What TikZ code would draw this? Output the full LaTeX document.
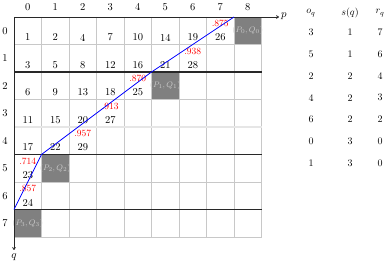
\documentclass[tikz,border=0pt]{standalone}
\usetikzlibrary{arrows.meta}
\definecolor{cellgray}{RGB}{128,128,128}
\definecolor{gridgray}{RGB}{200,200,200}
\definecolor{lightline}{RGB}{230,230,230}
\definecolor{lblgray}{RGB}{205,205,205}
\definecolor{thick}{RGB}{40,40,40}
\begin{document}
\begin{tikzpicture}[x=1pt,y=-1pt,
  num/.style={font=\fontsize{10.5}{12}\selectfont, inner sep=0pt},
  rnum/.style={font=\fontsize{9.5}{11}\selectfont, text=red, inner sep=0pt},
  axlbl/.style={font=\fontsize{10.5}{12}\selectfont, inner sep=0pt},
  tbl/.style={font=\normalsize, inner sep=0pt},
  celllbl/.style={font=\fontsize{8.5}{10}\selectfont, text=lblgray, inner sep=0pt},
  gridline/.style={draw=gridgray, line width=0.7pt},
  sepline/.style={draw=thick, line width=1.1pt},
  softline/.style={draw=lightline, line width=1.4pt},
  axis/.style={draw=thick, line width=0.8pt, -{To[length=3pt,width=3.5pt]}},
  path/.style={draw=blue, line width=0.8pt}]
\useasboundingbox (0,0) rectangle (391,264);
% shaded cells
\foreach \r/\c/\i in {0/8/0,2/5/1,5/1/2,7/0/3}{
  \fill[cellgray] ({14+27.5*\c},{17+27.5*\r}) rectangle ({14+27.5*(\c+1)},{17+27.5*(\r+1)});
  \node[celllbl] (lbl\i) at ({14+27.5*\c+13.75},{17+27.5*\r+13.75}) {$(P_\i,Q_\i)$};
}
% grid
\foreach \k in {1,...,9}{
  \draw[gridline] ({14+27.5*\k},17) -- ({14+27.5*\k},237);
}
\foreach \k in {1,3,6,8}{
  \draw[gridline] (14,{17+27.5*\k}) -- (261.5,{17+27.5*\k});
}
\draw[softline] (14,{17+27.5*4}) -- (261.5,{17+27.5*4});
\foreach \k in {2,5,7}{
  \draw[sepline] (14,{17+27.5*\k}) -- (261.5,{17+27.5*\k});
}
% axes
\coordinate (origin) at (14,17);
\coordinate (pend) at (279,17);
\coordinate (qend) at (14,250);
\draw[axis] (origin) -- (pend);
\draw[axis] (origin) -- (qend);
\node[axlbl, anchor=west] (plbl) at (281,16) {$p$};
\node[axlbl] (qlbl) at (14,257) {$q$};
% column / row labels
\foreach \c in {0,...,8}{
  \node[axlbl] (col\c) at ({14+27.5*\c+13.75},7) {\c};
}
\foreach \r in {0,...,7}{
  \node[axlbl] (row\r) at (5,{17+27.5*\r+13.75}) {\r};
}
% black numbers
\foreach \r/\c/\t in {0/0/1,0/1/2,0/2/4,0/3/7,0/4/10,0/5/14,0/6/19,0/7/26,
  1/0/3,1/1/5,1/2/8,1/3/12,1/4/16,1/5/21,1/6/28,
  2/0/6,2/1/9,2/2/13,2/3/18,2/4/25,
  3/0/11,3/1/15,3/2/20,3/3/27,
  4/0/17,4/1/22,4/2/29,
  5/0/23,6/0/24}{
  \node[num] (n\r\c) at ({14+27.5*\c+13.75},{17+27.5*\r+20.5}) {\t};
}
% red numbers
\foreach \r/\c/\t in {0/7/.875,1/6/.938,2/4/.870,3/3/.913,4/2/.957,5/0/.714,6/0/.857}{
  \node[rnum] (m\r\c) at ({14+27.5*\c+13.75},{17+27.5*\r+6.5}) {\t};
}
% blue path through corners
\coordinate (c3) at (14,209.5);
\coordinate (c2) at (41.5,154.5);
\coordinate (c1) at (151.5,72);
\coordinate (c0) at (234,17);
\draw[path] (c3) -- (c2) -- (c1) -- (c0);
% table
\node[tbl] (h1) at (311,13) {$o_q$};
\node[tbl] (h2) at (350,13) {$s(q)$};
\node[tbl] (h3) at (380,13) {$r_q$};
\foreach \i/\a/\b/\cc in {0/3/1/7,1/5/1/6,2/2/2/4,3/4/2/3,4/6/2/2,5/0/3/0,6/1/3/0}{
  \node[tbl] (ta\i) at (311,{32.5+21.75*\i}) {\a};
  \node[tbl] (tb\i) at (350,{32.5+21.75*\i}) {\b};
  \node[tbl] (tc\i) at (380,{32.5+21.75*\i}) {\cc};
}
\end{tikzpicture}
\end{document}
